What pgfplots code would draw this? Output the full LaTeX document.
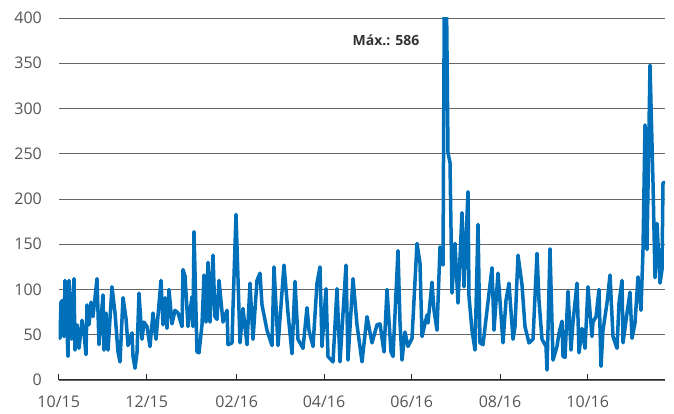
\documentclass[border=0pt]{standalone}
\usepackage{pgfplots}
\pgfplotsset{compat=1.18}
\usepackage{fontspec}
\setmainfont{Open Sans}
\definecolor{lineblue}{RGB}{0,112,186}
\definecolor{ticktext}{RGB}{85,85,85}
\begin{document}
\begin{tikzpicture}
\begin{axis}[
  scale only axis,
  width=606.3pt, height=362pt,
  xmin=58.7, xmax=665, ymin=0, ymax=400,
  axis x line*=bottom, axis y line*=left,
  x axis line style={black!85, line width=1pt},
  y axis line style={draw=none},
  ytick={0,50,...,400},
  xtick={58.7,146.7,236.7,324,411.7,500,587.7},
  xticklabels={10/15,12/15,02/16,04/16,06/16,08/16,10/16},
  xtick align=inside, major tick length=6pt,
  xtick style={black!85, line width=1pt},
  ytick style={draw=none},
  ymajorgrids, grid style={black!60, line width=0.9pt},
  /pgf/number format/assume math mode=true,
  tick label style={font=\fontsize{16}{18}\selectfont, text=ticktext},
  yticklabel style={inner sep=0pt, anchor=east, xshift=-16.7pt},
  xticklabel style={inner sep=0pt, anchor=base, yshift=-28pt},
  clip=true,
]
\addplot[lineblue, line width=3.5pt, line join=round, line cap=round] coordinates {
(59,64)(60,46)(61,86)(62.7,88)(64,48)(65,110)(68,26)(69,110)(71.7,45)(74,112)
(75,33)(77,61)(79,35)(82,66)(84,52)(86,28)(87,83)(89,61)(91,86)(93,70)
(97,112)(99,39)(103,94)(104,33)(106,74)(108,33)(112,103)(115,74)(118,31)(120,20)
(123,91)(126,68)(128,38)(132,52)(133,26)(135,13)(137,30)(139,96)(142,45)(144,64)
(147,59)(150,37)(153,74)(156,45)(161,110)(163,61)(165,91)(167,57)(169,100)(172,62)
(175,77)(178,74)(182,59)(183,122)(185,115)(188,59)(192,92)(193,59)(194,164)(197,31)
(199,30)(202,61)(204,116)(206,64)(208,130)(210,64)(213,138)(215,70)(217,67)(219,110)
(223,64)(227,77)(228,39)(232,41)(233,80)(236,183)(240,41)(243,79)(247,39)(250,107)
(253,45)(257,110)(260,118)(262,83)(267,55)(272,38)(274,125)(278,38)(284,127)(288,74)
(292,29)(295,109)(298,45)(303,35)(307,80)(309,55)(313,37)(317,107)(320,125)(322,37)
(326,101)(328,26)(333,20)(337,101)(340,20)(346,127)(348,22)(353,112)(357,61)(362,20)
(367,70)(372,41)(377,61)(380,62)(384,31)(387,100)(391,31)(393,26)(398,143)(400,64)
(402,22)(405,53)(408,37)(412,46)(417,151)(420,129)(422,48)(427,72)(428,63)(432,108)
(434,77)(437,55)(440,147)(443,127)(445,586)(448,251)(450,240)(452,96)(455,151)(458,85)
(462,185)(464,103)(468,208)(469,92)(472,55)(475,33)(478,172)(480,41)(483,39)(487,77)
(492,124)(494,55)(498,118)(503,41)(506,88)(509,107)(513,45)(515,59)(518,138)(522,105)
(525,59)(529,41)(533,45)(537,140)(539,88)(542,45)(546,37)(547,11)(550,145)(553,22)
(557,37)(559,52)(562,65)(563,26)(565,25)(568,98)(571,33)(573,64)(577,107)(579,30)
(582,57)(585,35)(588,103)(592,48)(593,64)(596,70)(599,100)(601,15)(603,55)(607,85)
(610,116)(613,48)(617,35)(619,85)(622,110)(623,41)(627,74)(630,97)(632,46)(635,63)
(638,114)(641,77)(643,144)(645,282)(647,144)(650,348)(653,218)(655,113)(657,173)(660,107)
(662,122)(663,218)(665,218)
};
\node[font=\bfseries\fontsize{14}{16}\selectfont, text=black!80, inner sep=0pt] at (axis cs:386,375) {Máx.: 586};
\end{axis}
\pgfresetboundingbox
\path ([shift={(-58.7pt,-34pt)}]current axis.south west) rectangle ([shift={(9pt,18pt)}]current axis.north east);
\end{tikzpicture}
\end{document}
